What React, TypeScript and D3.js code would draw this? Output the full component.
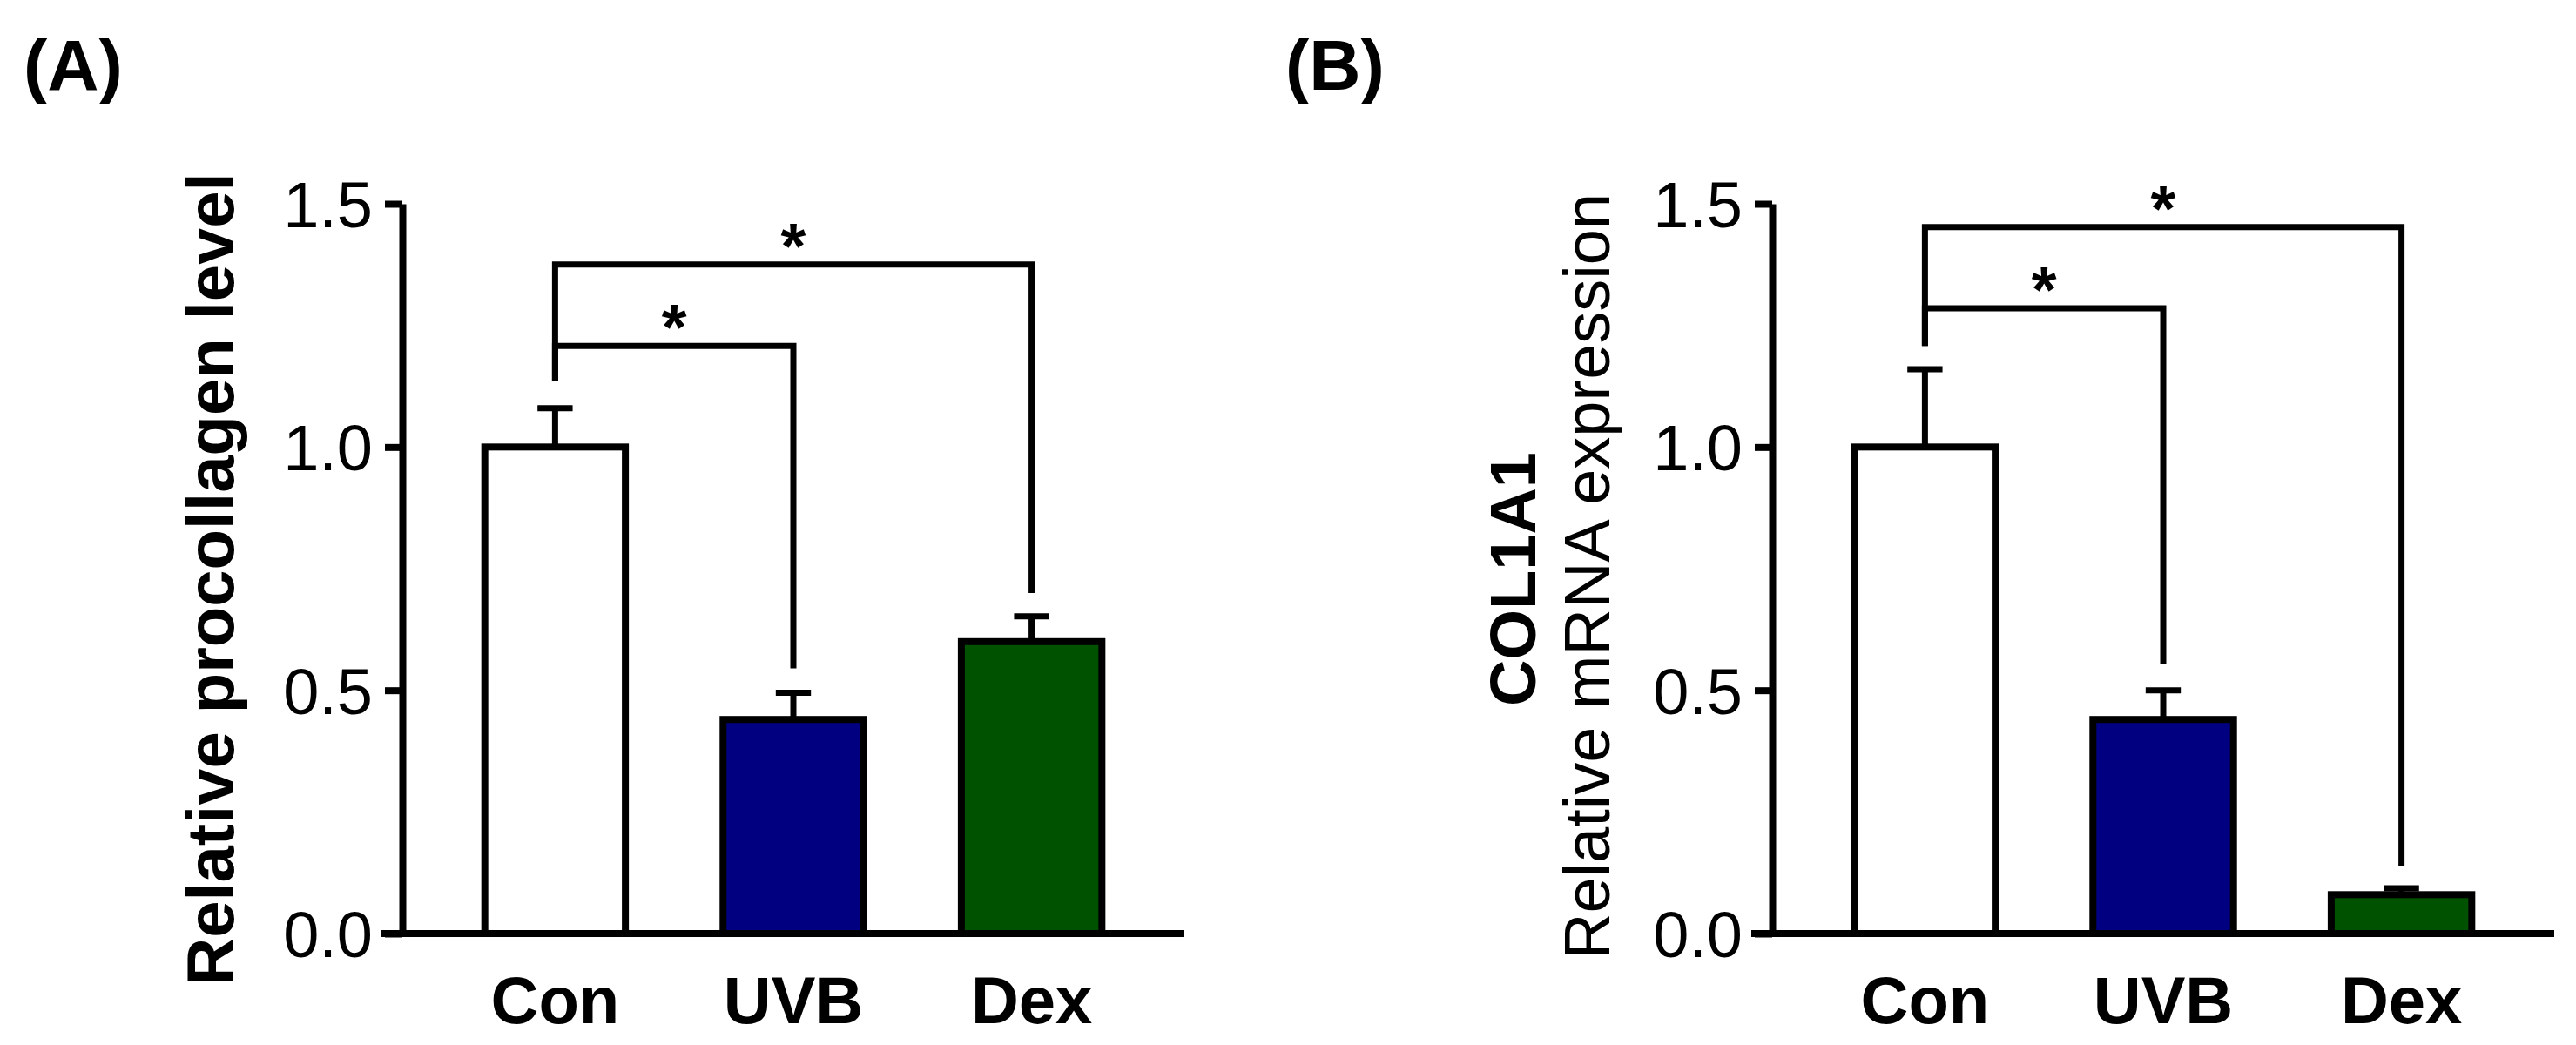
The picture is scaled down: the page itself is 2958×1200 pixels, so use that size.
import { useRef, useEffect } from 'react';
import * as d3 from 'd3';

const categories = ['Con', 'UVB', 'Dex'];
const barColors = ['#ffffff', '#000080', '#005200'];
const yTicks = [0, 0.5, 1.0, 1.5];

// panel A: procollagen
const procollagenMean = [1.0, 0.44, 0.6];
const procollagenErr = [0.08, 0.055, 0.052];
// panel B: COL1A1 mRNA
const col1a1Mean = [1.0, 0.44, 0.08];
const col1a1Err = [0.16, 0.06, 0.013];

// significance brackets: [from, to, level, start (from side), end (to side)]
const procollagenSig: [number, number, number, number, number][] = [
  [0, 1, 1.208, 1.135, 0.545],
  [0, 2, 1.375, 1.135, 0.7],
];
const col1a1Sig: [number, number, number, number, number][] = [
  [0, 1, 1.285, 1.208, 0.555],
  [0, 2, 1.452, 1.208, 0.138],
];

const FONT = '"Liberation Sans", Arial, Helvetica, sans-serif';
const W = 2958;
const H = 1200;

type PanelProps = {
  left: number;
  means: number[];
  errs: number[];
  sig: [number, number, number, number, number][];
};

const Panel: React.FC<PanelProps> = ({ left, means, errs, sig }) => {
  const gy = useRef<SVGGElement>(null);
  const plotW = 898;

  const y = d3.scaleLinear().domain([0, 1.5]).range([1072, 234]);
  const x = d3
    .scaleBand()
    .domain(categories)
    .range([0, plotW])
    .paddingInner(0.41)
    .paddingOuter(0.346);
  const bw = x.bandwidth();
  const cx = (i: number) => (x(categories[i]) ?? 0) + bw / 2;

  useEffect(() => {
    const el = gy.current;
    if (!el) return;
    const g = d3.select(el);
    g.call(
      d3
        .axisLeft(y)
        .tickValues(yTicks)
        .tickSize(20)
        .tickSizeOuter(0)
        .tickPadding(14)
        .tickFormat((d) => (d as number).toFixed(1)),
    );
    g.select('.domain').attr('stroke', '#000').attr('stroke-width', 8);
    g.selectAll('.tick line').attr('stroke', '#000').attr('stroke-width', 8);
    g.selectAll('.tick text')
      .attr('fill', '#000')
      .attr('font-size', 74)
      .attr('font-family', FONT)
      .attr('dy', '0.36em');
    return () => {
      g.selectAll('*').remove();
    };
  }, [y]);

  return (
    <g transform={`translate(${left},0)`}>
      {means.map((m, i) => (
        <rect
          key={categories[i]}
          x={x(categories[i])}
          y={y(m)}
          width={bw}
          height={y(0) - y(m)}
          fill={barColors[i]}
          stroke="#000"
          strokeWidth={8}
        />
      ))}
      {means.map((m, i) => (
        <g key={`err-${i}`} stroke="#000" strokeWidth={7}>
          <line x1={cx(i)} x2={cx(i)} y1={y(m)} y2={y(m + errs[i])} />
          <line
            x1={cx(i) - bw * 0.125}
            x2={cx(i) + bw * 0.125}
            y1={y(m + errs[i])}
            y2={y(m + errs[i])}
          />
        </g>
      ))}
      <line x1={-24} x2={plotW} y1={y(0)} y2={y(0)} stroke="#000" strokeWidth={8} />
      <g ref={gy} />
      {categories.map((c, i) => (
        <text
          key={c}
          x={cx(i)}
          y={1175}
          textAnchor="middle"
          fontFamily={FONT}
          fontWeight="bold"
          fontSize={76}
        >
          {c}
        </text>
      ))}
      {sig.map(([a, b, level, start, end], k) => (
        <g key={`sig-${k}`}>
          <path
            d={`M${cx(a)},${y(start)}V${y(level)}H${cx(b)}V${y(end)}`}
            fill="none"
            stroke="#000"
            strokeWidth={7}
          />
          <text
            x={(cx(a) + cx(b)) / 2}
            y={y(level) + 4}
            textAnchor="middle"
            fontFamily={FONT}
            fontWeight="bold"
            fontSize={74}
          >
            *
          </text>
        </g>
      ))}
    </g>
  );
};

export default function App() {
  return (
    <svg
      width={W}
      height={H}
      style={{ position: 'absolute', left: 0, top: 0, background: '#fff' }}
    >
      <rect width={W} height={H} fill="#fff" />
      <text x={27} y={103} fontFamily={FONT} fontWeight="bold" fontSize={82}>
        (A)
      </text>
      <text x={1476} y={103} fontFamily={FONT} fontWeight="bold" fontSize={82}>
        (B)
      </text>

      <text
        transform="translate(268,665) rotate(-90)"
        textAnchor="middle"
        fontFamily={FONT}
        fontWeight="bold"
        fontSize={76}
      >
        Relative procollagen level
      </text>
      <Panel left={462} means={procollagenMean} errs={procollagenErr} sig={procollagenSig} />

      <text
        transform="translate(1763,665) rotate(-90)"
        textAnchor="middle"
        fontFamily={FONT}
        fontWeight="bold"
        fontSize={74}
      >
        COL1A1
      </text>
      <text
        transform="translate(1848,662) rotate(-90)"
        textAnchor="middle"
        fontFamily={FONT}
        fontSize={74}
      >
        Relative mRNA expression
      </text>
      <Panel left={2035} means={col1a1Mean} errs={col1a1Err} sig={col1a1Sig} />
    </svg>
  );
}
